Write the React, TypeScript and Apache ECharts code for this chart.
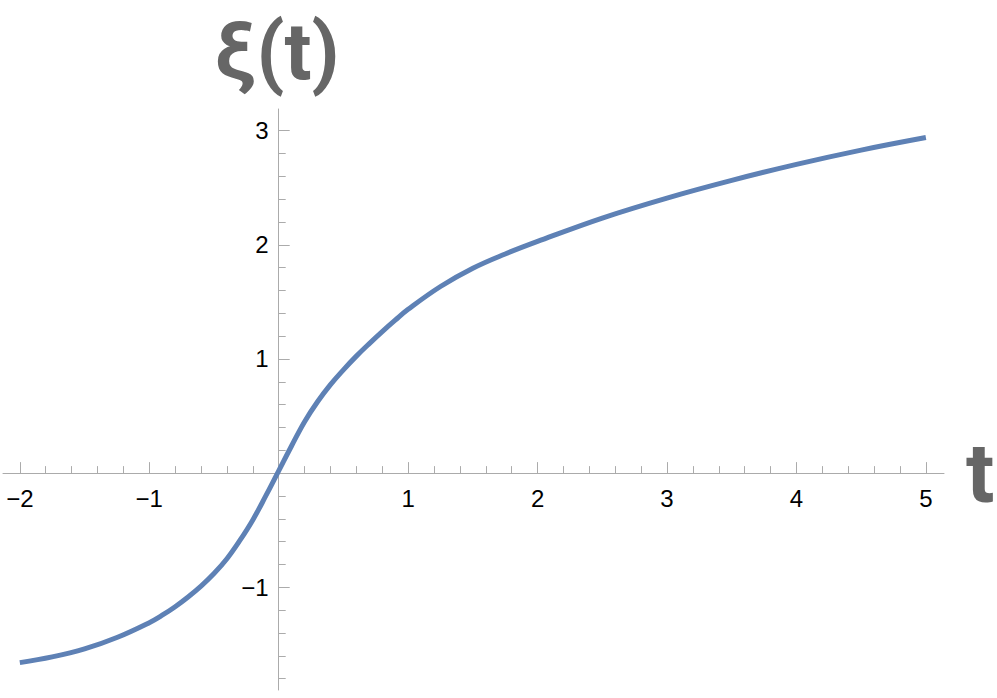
import React, { useEffect, useRef } from "react";
import * as echarts from "echarts";

// Curve samples (t, ξ(t))
const tValues = [-2, -1.75, -1.5, -1.25, -1, -0.9, -0.8, -0.7, -0.6, -0.5, -0.4, -0.3, -0.2, -0.1, 0, 0.1, 0.2, 0.3, 0.4, 0.5, 0.6, 0.7, 0.8, 0.9, 1, 1.25, 1.5, 1.75, 2, 2.5, 3, 3.5, 4, 4.5, 5];
const xiValues = [-1.66, -1.61, -1.54, -1.44, -1.31, -1.245, -1.17, -1.085, -0.99, -0.88, -0.75, -0.59, -0.41, -0.2, 0.02, 0.24, 0.45, 0.625, 0.775, 0.905, 1.025, 1.135, 1.24, 1.34, 1.435, 1.635, 1.795, 1.92, 2.03, 2.235, 2.41, 2.565, 2.705, 2.83, 2.94];

// Axis ticks and labels
const xMajorTicks = [-2, -1, 0, 1, 2, 3, 4, 5];
const xLabelValues = [-2, -1, 1, 2, 3, 4, 5];
const yMajorTicks = [-1, 0, 1, 2, 3];
const yLabelValues = [-1, 1, 2, 3];
const xMinorTicks = [-1.8, -1.6, -1.4, -1.2, -0.8, -0.6, -0.4, -0.2, 0.2, 0.4, 0.6, 0.8, 1.2, 1.4, 1.6, 1.8, 2.2, 2.4, 2.6, 2.8, 3.2, 3.4, 3.6, 3.8, 4.2, 4.4, 4.6, 4.8];
const yMinorTicks = [-1.8, -1.6, -1.4, -1.2, -0.8, -0.6, -0.4, -0.2, 0.2, 0.4, 0.6, 0.8, 1.2, 1.4, 1.6, 1.8, 2.2, 2.4, 2.6, 2.8];

const X_NAME = "t";
const Y_NAME = "\u03BE(t)";

const X_MIN = -2.13;
const X_MAX = 5.14;
const Y_MIN = -1.9;
const Y_MAX = 3.19;

const GRID_LEFT = 3;
const GRID_RIGHT = 53;
const GRID_TOP = 109;
const GRID_BOTTOM = 8;
const W = 997;
const H = 698;

const AXIS_COLOR = "#ababab";
const NAME_COLOR = "#666666";

const fmt = (v: number) => String(v).replace("-", "\u2212");

function fontAvailable(family: string): boolean {
  try {
    const ctx = document.createElement("canvas").getContext("2d");
    if (!ctx) return false;
    const sample = "\u03BE(t)abcWMi";
    ctx.font = "bold 50px monospace";
    const a = ctx.measureText(sample).width;
    ctx.font = `bold 50px "${family}", monospace`;
    const b = ctx.measureText(sample).width;
    return Math.abs(a - b) > 0.5;
  } catch (e) {
    return false;
  }
}

export default function App() {
  const ref = useRef<HTMLDivElement>(null);

  useEffect(() => {
    if (!ref.current) return;
    const chart = echarts.init(ref.current, undefined, { renderer: "svg" });
    const data = tValues.map((t, i) => [t, xiValues[i]]);

    const gridW = W - GRID_LEFT - GRID_RIGHT;
    const gridH = H - GRID_TOP - GRID_BOTTOM;
    // Move the axes so they cross at the origin (labels follow them)
    const xAxisOffset = -((0 - Y_MIN) / (Y_MAX - Y_MIN)) * gridH;
    const yAxisOffset = -((0 - X_MIN) / (X_MAX - X_MIN)) * gridW;
    const yAxisPx = GRID_LEFT - yAxisOffset;

    const narrow = fontAvailable("Liberation Sans Narrow");
    const yNameFont = narrow
      ? 'bold 86px "Liberation Sans Narrow", sans-serif'
      : "bold 80px Roboto, sans-serif";

    const labelStyle = {
      fontSize: 24,
      color: "#000",
      fontFamily: "Liberation Sans, Arial, sans-serif",
      formatter: (v: number) => fmt(v),
    };

    chart.setOption({
      animation: false,
      backgroundColor: "#ffffff",
      grid: {
        left: GRID_LEFT,
        right: GRID_RIGHT,
        top: GRID_TOP,
        bottom: GRID_BOTTOM,
        containLabel: false,
        outerBoundsMode: "none",
      },
      graphic: [
        {
          type: "text",
          x: yAxisPx - 2,
          y: 52,
          style: {
            text: Y_NAME,
            font: yNameFont,
            fill: NAME_COLOR,
            textAlign: "center",
            textVerticalAlign: "middle",
          },
        },
      ],
      xAxis: [
        {
          type: "value",
          min: X_MIN,
          max: X_MAX,
          position: "bottom",
          offset: xAxisOffset,
          axisLine: { show: true, onZero: false, lineStyle: { color: AXIS_COLOR, width: 1 } },
          axisTick: { show: true, inside: true, length: 11, customValues: xMajorTicks, lineStyle: { color: AXIS_COLOR, width: 1 } },
          axisLabel: { show: true, customValues: xLabelValues, margin: 13, ...labelStyle },
          splitLine: { show: false },
          name: X_NAME,
          nameLocation: "end",
          nameGap: 22,
          nameTextStyle: { fontSize: 84, fontWeight: "bold", color: NAME_COLOR, fontFamily: "Roboto, sans-serif" },
        },
        {
          type: "value",
          min: X_MIN,
          max: X_MAX,
          position: "bottom",
          offset: xAxisOffset,
          axisLine: { show: false, onZero: false },
          axisTick: { show: true, inside: true, length: 7, customValues: xMinorTicks, lineStyle: { color: AXIS_COLOR, width: 1 } },
          axisLabel: { show: false },
          splitLine: { show: false },
        },
      ],
      yAxis: [
        {
          type: "value",
          min: Y_MIN,
          max: Y_MAX,
          position: "left",
          offset: yAxisOffset,
          axisLine: { show: true, onZero: false, lineStyle: { color: AXIS_COLOR, width: 1 } },
          axisTick: { show: true, inside: true, length: 11, customValues: yMajorTicks, lineStyle: { color: AXIS_COLOR, width: 1 } },
          axisLabel: { show: true, customValues: yLabelValues, margin: 10, ...labelStyle },
          splitLine: { show: false },
        },
        {
          type: "value",
          min: Y_MIN,
          max: Y_MAX,
          position: "left",
          offset: yAxisOffset,
          axisLine: { show: false, onZero: false },
          axisTick: { show: true, inside: true, length: 7, customValues: yMinorTicks, lineStyle: { color: AXIS_COLOR, width: 1 } },
          axisLabel: { show: false },
          splitLine: { show: false },
        },
      ],
      series: [
        {
          type: "line",
          xAxisIndex: 0,
          yAxisIndex: 0,
          data,
          showSymbol: false,
          symbol: "none",
          smooth: 0.4,
          lineStyle: { color: "#5E81B5", width: 5, cap: "butt" },
          z: 5,
        },
      ],
    });

    return () => chart.dispose();
  }, []);

  return (
    <div
      ref={ref}
      style={{ position: "absolute", left: 0, top: 0, width: W, height: H, background: "#fff" }}
    />
  );
}
